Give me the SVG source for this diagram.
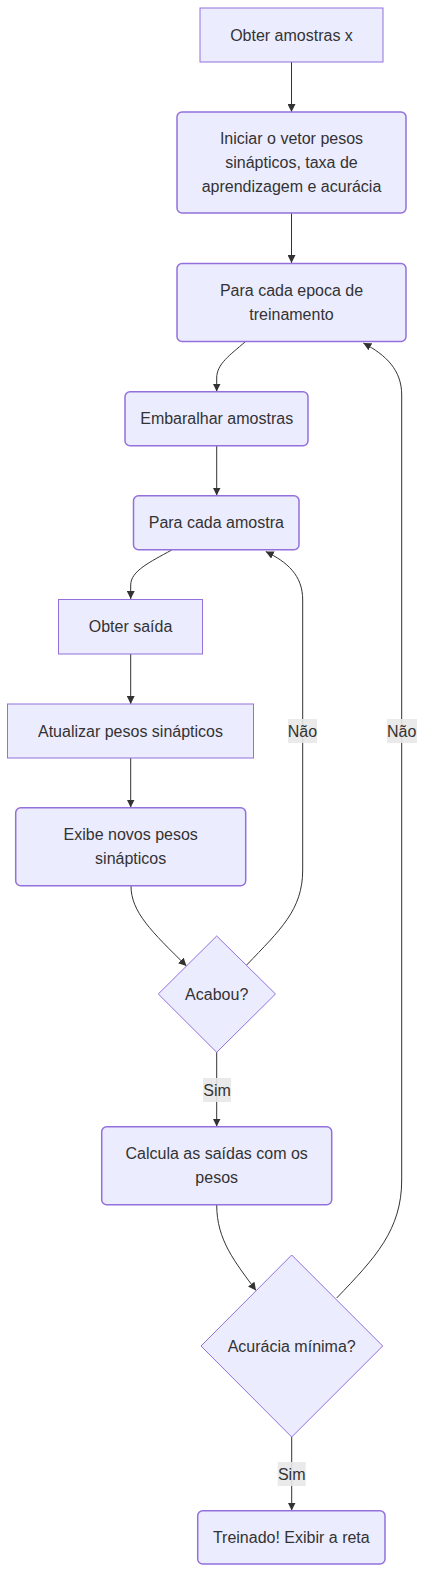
<svg xmlns="http://www.w3.org/2000/svg" width="425" height="1573" viewBox="0 0 425 1573">
<style>
.n{fill:#ECECFF;stroke:#9370DB;stroke-width:1}
.r{fill:#ECECFF;stroke:#9370DB;stroke-width:1.5}
.t{font-family:"Liberation Sans",Arial,sans-serif;font-size:16px;fill:#333;text-anchor:middle;dominant-baseline:central}
.e{fill:none;stroke:#333;stroke-width:1;marker-end:url(#ah)}
.lb{fill:#e8e8e8;opacity:0.9}
</style>
<defs>
<marker id="ah" viewBox="0 0 10 10" refX="10" refY="5" markerWidth="8" markerHeight="8" markerUnits="userSpaceOnUse" orient="auto">
<path d="M0,0 L10,5 L0,10 z" fill="#333"/>
</marker>
</defs>
<g id="edges">
<path class="e" d="M291.5,62 L291.5,112"/>
<path class="e" d="M291.5,213 L291.5,263"/>
<path class="e" d="M245,342 C230,355 216.7,364 216.7,378 L216.7,391.5"/>
<path class="e" d="M216.7,446 L216.7,495.5"/>
<path class="e" d="M171.7,550 C150,562 130.7,571 130.7,585 L130.7,599"/>
<path class="e" d="M130.7,654 L130.7,704"/>
<path class="e" d="M130.7,758 L130.7,807.5"/>
<path class="e" d="M131,886 C131,912 152,932 186.5,966"/>
<path class="e" d="M246.7,965 C280,930 302.7,910 302.7,870 L302.7,600 C302.7,575 287,562 265.7,551.5"/>
<path class="e" d="M216.7,1052 L216.7,1126.5"/>
<path class="e" d="M216.7,1205 C216.7,1240 235,1262 256,1290.5"/>
<path class="e" d="M336.7,1298 C375,1258 401.7,1230 401.7,1180 L401.7,395 C401.7,370 386,355 363.3,343"/>
<path class="e" d="M291.7,1437 L291.7,1510.5"/>
<rect class="lb" x="288" y="719" width="29" height="24"/>
<text class="t" x="302.5" y="731">Não</text>
<rect class="lb" x="387" y="719" width="30" height="24"/>
<text class="t" x="401.7" y="731">Não</text>
<rect class="lb" x="203" y="1078" width="28" height="24"/>
<text class="t" x="217" y="1090">Sim</text>
<rect class="lb" x="277.7" y="1462" width="28" height="24"/>
<text class="t" x="291.7" y="1474">Sim</text>
</g>
<g id="A"><rect class="n" x="200" y="8" width="183" height="54"/><text class="t" x="291.5" y="35">Obter amostras x</text></g>
<g id="B"><rect class="r" x="177" y="112" width="229" height="101" rx="5"/><text class="t" x="291.5" y="138.5">Iniciar o vetor pesos</text><text class="t" x="291.5" y="162.5">sinápticos, taxa de</text><text class="t" x="291.5" y="186.5">aprendizagem e acurácia</text></g>
<g id="C"><rect class="r" x="177" y="263.5" width="229" height="78" rx="5"/><text class="t" x="291.5" y="290.5">Para cada epoca de</text><text class="t" x="291.5" y="314.5">treinamento</text></g>
<g id="D"><rect class="r" x="125" y="391.7" width="183" height="54" rx="5"/><text class="t" x="216.7" y="418.7">Embaralhar amostras</text></g>
<g id="E"><rect class="r" x="133.5" y="495.7" width="165.5" height="54" rx="5"/><text class="t" x="216.3" y="522.7">Para cada amostra</text></g>
<g id="F"><rect class="n" x="58.5" y="599.5" width="144" height="54.5"/><text class="t" x="130.5" y="626.7">Obter saída</text></g>
<g id="G"><rect class="n" x="7.5" y="704" width="246" height="54"/><text class="t" x="130.5" y="731">Atualizar pesos sinápticos</text></g>
<g id="H"><rect class="r" x="15.7" y="807.7" width="230" height="78" rx="5"/><text class="t" x="130.7" y="834.5">Exibe novos pesos</text><text class="t" x="130.7" y="858.5">sinápticos</text></g>
<g id="I"><polygon class="n" points="216.7,936 275.5,994 216.7,1052.3 158.3,994"/><text class="t" x="216.7" y="994.5">Acabou?</text></g>
<g id="J"><rect class="r" x="101.7" y="1126.7" width="230" height="78" rx="5"/><text class="t" x="216.7" y="1153.5">Calcula as saídas com os</text><text class="t" x="216.7" y="1177.5">pesos</text></g>
<g id="K"><polygon class="n" points="291.7,1255 382.7,1346 291.7,1437 201,1346"/><text class="t" x="291.7" y="1346">Acurácia mínima?</text></g>
<g id="L"><rect class="r" x="197.7" y="1510.7" width="187.3" height="53.3" rx="5"/><text class="t" x="291.3" y="1537.5">Treinado! Exibir a reta</text></g>
</svg>
